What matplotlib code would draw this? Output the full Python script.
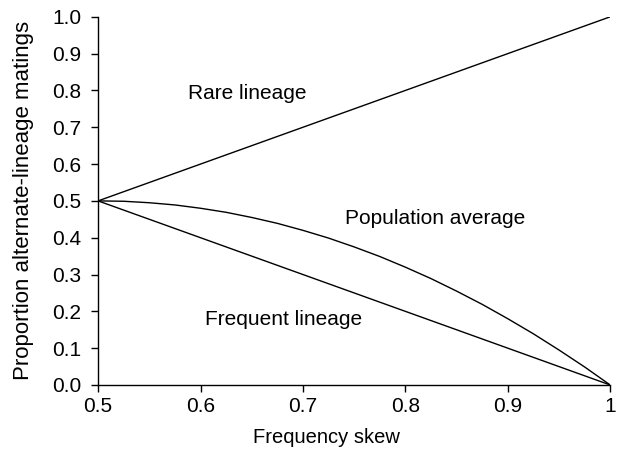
import matplotlib
matplotlib.use("Agg")
import matplotlib.pyplot as plt

plt.rcParams['font.family'] = ['Liberation Sans', 'DejaVu Sans']

skew = [0.5, 0.525, 0.55, 0.575, 0.6, 0.625, 0.65, 0.675, 0.7, 0.725, 0.75,
        0.775, 0.8, 0.825, 0.85, 0.875, 0.9, 0.925, 0.95, 0.975, 1.0]
rare = [0.5, 0.525, 0.55, 0.575, 0.6, 0.625, 0.65, 0.675, 0.7, 0.725, 0.75,
        0.775, 0.8, 0.825, 0.85, 0.875, 0.9, 0.925, 0.95, 0.975, 1.0]
frequent = [0.5, 0.475, 0.45, 0.425, 0.4, 0.375, 0.35, 0.325, 0.3, 0.275, 0.25,
            0.225, 0.2, 0.175, 0.15, 0.125, 0.1, 0.075, 0.05, 0.025, 0.0]
average = [0.5, 0.499, 0.495, 0.489, 0.48, 0.469, 0.455, 0.439, 0.42, 0.399, 0.375,
           0.349, 0.32, 0.289, 0.255, 0.219, 0.18, 0.139, 0.095, 0.049, 0.0]

xticks = [0.5, 0.6, 0.7, 0.8, 0.9, 1.0]
xticklabels = ['0.5', '0.6', '0.7', '0.8', '0.9', '1']
yticks = [0.0, 0.1, 0.2, 0.3, 0.4, 0.5, 0.6, 0.7, 0.8, 0.9, 1.0]

fig = plt.figure(figsize=(6.17, 4.54), dpi=100)
ax = fig.add_axes([0.159, 0.152, 0.83, 0.811])

for ys in (rare, frequent, average):
    ax.plot(skew, ys, color='black', lw=1.0)

ax.set_xlim(0.5, 1.0)
ax.set_ylim(0.0, 1.0)
ax.set_xticks(xticks)
ax.set_xticklabels(xticklabels)
ax.set_yticks(yticks)
ax.set_yticklabels([f'{v:.1f}' for v in yticks])
ax.tick_params(direction='out', length=5, width=1, labelsize=15, colors='black')
ax.tick_params(axis='x', pad=4)
ax.tick_params(axis='y', pad=7)
for s in ('top', 'right'):
    ax.spines[s].set_visible(False)
for s in ('left', 'bottom'):
    ax.spines[s].set_linewidth(1)

ax.set_xlabel('Frequency skew', fontsize=14.5, labelpad=8)
ax.xaxis.label.set_x(0.445)
ax.set_ylabel('Proportion alternate-lineage matings', fontsize=16, labelpad=13)

ax.text(0.6455, 0.793, 'Rare lineage', fontsize=15, ha='center', va='center')
ax.text(0.829, 0.451, 'Population average', fontsize=15, ha='center', va='center')
ax.text(0.681, 0.179, 'Frequent lineage', fontsize=15, ha='center', va='center')

fig.savefig('out.png', dpi=100)
